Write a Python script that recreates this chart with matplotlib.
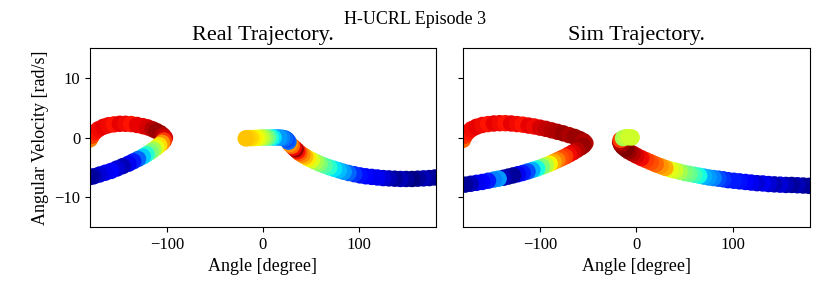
import numpy as np
import matplotlib
matplotlib.use("Agg")
import matplotlib.pyplot as plt

plt.rcParams["font.family"] = "serif"
plt.rcParams["font.serif"] = ["Liberation Serif", "DejaVu Serif"]

# real trajectory: angle [deg], angular velocity [rad/s], action (colour)
real_angle = [-180, -178, -175, -171, -166, -161, -155, -149, -143, -137, -131, -125, -120, -115, -111, -107, -104, -102,
              -103, -105, -108, -111, -114, -117, -121, -125, -130, -135, -140, -146, -152, -158, -164, -170, -176, -179.5,
              179, 173, 167, 161, 155, 149, 143, 137, 131, 125, 119, 113, 107, 101, 95, 89, 84, 79, 74, 69, 64, 59, 55,
              51, 47, 44, 41, 38, 36, 34, 32, 30, 28, 26.5, 25, 23,
              20, 17, 14, 11, 8, 5, 2, -1, -4, -7, -10, -13, -16, -18]
real_velocity = [-0.3, 0.3, 0.9, 1.4, 1.8, 2.05, 2.2, 2.3, 2.3, 2.25, 2.1, 1.9, 1.7, 1.4, 1.1, 0.75, 0.35, -0.05,
                 -0.5, -0.9, -1.3, -1.7, -2.05, -2.4, -2.8, -3.2, -3.6, -4.0, -4.4, -4.8, -5.2, -5.6, -5.9, -6.2, -6.5, -6.6,
                 -6.7, -6.8, -6.85, -6.9, -6.95, -6.95, -6.95, -6.9, -6.85, -6.8, -6.7, -6.6, -6.5, -6.35, -6.15, -5.95,
                 -5.75, -5.5, -5.25, -5.0, -4.7, -4.4, -4.1, -3.8, -3.5, -3.2, -2.9, -2.6, -2.3, -2.0, -1.7, -1.4, -1.1,
                 -0.7, -0.4, -0.15,
                 -0.05, 0.0, 0.0, 0.0, 0.0, 0.0, 0.0, 0.0, -0.05, -0.05, -0.1, -0.1, -0.1, -0.15]
real_action = [0.55, 0.7, 0.78, 0.8, 0.82, 0.8, 0.78, 0.82, 0.8, 0.78, 0.82, 0.82, 0.85, 0.9, 0.95, 0.95, 0.9, 0.85,
               0.7, 0.5, 0.35, 0.25, 0.1, 0.0, -0.2, -0.35, -0.55, -0.7, -0.8, -0.9, -0.85, -0.75, -0.8, -0.85, -0.9, -0.95,
               -0.95, -0.95, -0.9, -0.95, -1.0, -0.95, -0.9, -0.95, -0.9, -0.85, -0.8, -0.8, -0.75, -0.72, -0.65, -0.55,
               -0.45, -0.38, -0.3, -0.2, -0.1, 0.0, 0.1, 0.22, 0.32, 0.42, 0.52, 0.62, 0.78, 0.95, 0.8, 0.6, 0.5,
               -0.55, -0.6, -0.55,
               -0.5, -0.45, -0.45, -0.3, -0.2, -0.05, 0.05, 0.15, 0.22, 0.28, 0.32, 0.36, 0.38, 0.4]

# simulated trajectory
sim_angle = [-180, -178, -175, -171, -166, -160, -154, -148, -142, -136, -130, -124, -118, -112, -106, -100, -94, -88,
             -82, -76, -70, -64, -59, -55, -53,
             -55, -58, -62, -66, -70, -74, -78, -82, -86, -90, -94, -98, -103, -108, -113, -118, -123, -128, -133, -138,
             -143, -148, -154, -160, -166, -172, -178,
             179, 173, 167, 161, 155, 149, 143, 137, 131, 125, 119, 113, 107, 101, 95, 90, 85, 80, 75, 70, 65, 60, 55,
             50, 45, 40, 35, 30, 25, 20, 15, 10, 5, 0, -4, -8, -11, -14, -16, -17, -16.5, -14, -11, -8, -5]
sim_velocity = [-0.4, 0.3, 0.9, 1.4, 1.8, 2.1, 2.25, 2.35, 2.4, 2.4, 2.35, 2.25, 2.15, 2.0, 1.85, 1.65, 1.45, 1.2,
                0.95, 0.7, 0.4, 0.1, -0.25, -0.6, -0.95,
                -1.35, -1.7, -2.1, -2.5, -2.85, -3.2, -3.5, -3.8, -4.1, -4.4, -4.65, -4.9, -5.2, -5.45, -5.7, -5.95,
                -6.15, -6.35, -6.55, -6.75, -6.9, -7.05, -7.25, -7.45, -7.6, -7.75, -7.9,
                -8.1, -8.05, -8.0, -7.95, -7.95, -7.9, -7.85, -7.8, -7.7, -7.65, -7.55, -7.45, -7.35, -7.25, -7.15, -7.0,
                -6.9, -6.8, -6.7, -6.55, -6.4, -6.25, -6.1, -5.95, -5.75, -5.55, -5.35, -5.1, -4.8, -4.5, -4.15, -3.8,
                -3.45, -3.05, -2.7, -2.35, -2.0, -1.6, -1.2, -0.8, -0.4, -0.1, 0.05, 0.05, 0.0]
sim_action = [0.6, 0.72, 0.78, 0.8, 0.82, 0.8, 0.78, 0.82, 0.8, 0.78, 0.82, 0.8, 0.78, 0.82, 0.8, 0.85, 0.88, 0.9,
              0.92, 0.95, 0.92, 0.95, 0.95, 0.92, 0.9,
              0.95, 0.95, 0.9, 0.85, 0.8, 0.7, 0.65, 0.55, 0.45, 0.3, 0.15, 0.0, -0.25, -0.4, -0.6, -0.7, -0.8, -0.95,
              -0.95, -0.9, -0.45, -0.5, -0.7, -0.75, -0.8, -0.9, -0.95,
              -0.95, -0.95, -0.9, -0.95, -0.9, -0.85, -0.9, -0.85, -0.8, -0.85, -0.8, -0.75, -0.72, -0.7, -0.7, -0.65,
              -0.6, -0.5, -0.45, -0.4, -0.25, -0.15, -0.05, 0.0, 0.1, 0.2, 0.25, 0.45, 0.5, 0.6, 0.65, 0.7, 0.8, 0.85,
              0.9, 0.95, 1.0, 1.0, 0.95, 0.9, 0.7, 0.1, 0.15, 0.2, 0.2]

fig = plt.figure(figsize=(8.3, 3.02), dpi=100)
ax1 = fig.add_axes([0.1084, 0.2483, 0.4169, 0.5928])
ax2 = fig.add_axes([0.5578, 0.2483, 0.4181, 0.5928], sharey=ax1)

for ax, a, v, c, title in [(ax1, real_angle, real_velocity, real_action, "Real Trajectory."),
                           (ax2, sim_angle, sim_velocity, sim_action, "Sim Trajectory.")]:
    ax.scatter(a, v, c=c, cmap="jet", vmin=-1, vmax=1, s=140, linewidths=0)
    ax.set_xlim(-180, 180)
    ax.set_ylim(-15, 15)
    ax.set_xticks([-100, 0, 100])
    ax.set_yticks([-10, 0, 10])
    ax.set_title(title, fontsize=16)
    ax.set_xlabel("Angle [degree]", fontsize=13)
    ax.tick_params(labelsize=12)

ax1.set_ylabel("Angular Velocity [rad/s]", fontsize=13)
plt.setp(ax2.get_yticklabels(), visible=False)
fig.suptitle("H-UCRL Episode 3", fontsize=13, y=0.935, va="center")

plt.savefig("out.png", dpi=100)
